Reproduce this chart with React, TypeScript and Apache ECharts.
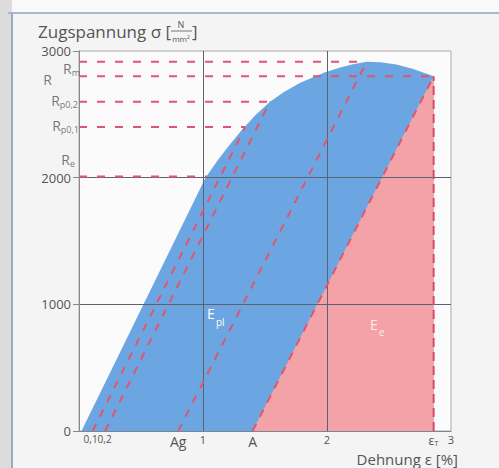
import React, { useEffect, useRef } from "react";
import * as echarts from "echarts";

// Stress–strain curve: Dehnung ε [%] vs Zugspannung σ [N/mm²]
const strain = [0.02, 1.02, 1.12, 1.22, 1.32, 1.42, 1.54, 1.65, 1.78, 1.98, 2.1, 2.2, 2.32, 2.43, 2.56, 2.69, 2.86];
const stress = [0, 2000, 2140, 2265, 2385, 2490, 2600, 2675, 2748, 2830, 2868, 2893, 2915, 2912, 2893, 2860, 2800];

// Characteristic stresses (R with subscript)
const levelSubs = ["m", "", "p0,2", "p0,1", "e"];
const levelStress = [2915, 2800, 2600, 2400, 2010];
const levelStrainAtCurve = [2.32, 2.86, 1.54, 1.34, 1.03];

// Offset / unloading lines (start on strain axis, end on curve)
const offsetStart = [0.11, 0.21, 0.8, 1.4];
const offsetEndStrain = [1.34, 1.54, 2.32, 2.86];
const offsetEndStress = [2400, 2600, 2915, 2800];

// Elongation at break
const epsT = 2.86;
const stressAtBreak = 2800;

// Elastic energy region (under unloading line from A)
const elasticStrain = [1.4, 2.86];
const elasticStress = [0, 2800];

// Axis labels ("0,1" and "0,2" sit side by side around 0.15)
const xLabelValues = [0.15, 0.8, 1, 1.4, 2, 2.86, 3];
const xLabelTexts = ["{s|0,1}{s|0,2}", "{b|Ag}", "{n|1}", "{b|A}", "{n|2}", "{e|ε}{t|T}", "{n|3}"];

const FONT = "Open Sans";

export default function App() {
  const ref = useRef<HTMLDivElement>(null);
  useEffect(() => {
    document.body.style.margin = "0";
    const chart = echarts.init(ref.current as HTMLDivElement, null, { renderer: "svg" });
    const dash = "#e0566f";
    const grey = "#555";
    const curveData = strain.map((x, i) => [x, stress[i]]);
    const elasticData = elasticStrain.map((x, i) => [x, elasticStress[i]]);
    const levelLabelOffsets = [[1, 7], [-27, 3], [-1, -1], [0, -2], [-4, -17]];

    const series: any[] = [
      {
        type: "line", data: curveData, showSymbol: false, silent: true, z: 2,
        lineStyle: { width: 0 }, areaStyle: { color: "#6ca6e2", opacity: 1 },
      },
      {
        type: "line", data: elasticData, showSymbol: false, silent: true, z: 3,
        lineStyle: { width: 0 }, areaStyle: { color: "#f3a2a7", opacity: 1 },
      },
    ];
    levelStress.forEach((v, i) =>
      series.push({
        type: "line", data: [[0, v], [levelStrainAtCurve[i], v]], showSymbol: false, silent: true, z: 6,
        lineStyle: { color: dash, width: 2, type: [8, 10] },
      })
    );
    offsetStart.forEach((x, i) =>
      series.push({
        type: "line", data: [[x, 0], [offsetEndStrain[i], offsetEndStress[i]]], showSymbol: false, silent: true, z: 6,
        lineStyle: { color: dash, width: 2, type: [8, 8] },
      })
    );
    series.push({
      type: "line", data: [[epsT, 0], [epsT, stressAtBreak]], showSymbol: false, silent: true, z: 6,
      lineStyle: { color: "#d84a66", width: 2, type: [9, 5] },
    });
    series.push({
      type: "scatter", symbolSize: 0, silent: true, z: 10,
      data: levelStress.map((v, i) => ({
        value: [0, v],
        label: {
          offset: levelLabelOffsets[i],
          formatter: levelSubs[i] ? `{r|R}{s|${levelSubs[i]}}` : "{r|R}",
        },
      })),
      label: {
        show: true, position: "left", distance: 0,
        rich: {
          r: { fontSize: 14, color: grey, fontFamily: FONT },
          s: { fontSize: 9, color: grey, fontFamily: FONT, padding: [8, 0, 0, 0] },
        },
      },
    });

    const option: any = {
      animation: false,
      backgroundColor: "#f4f4f4",
      textStyle: { fontFamily: FONT },
      grid: {
        left: 79, top: 51, width: 372, height: 380,
        show: true, backgroundColor: "#fbfbfb", borderColor: "#aaaaaa", borderWidth: 1,
      },
      xAxis: {
        type: "value", min: 0, max: 3, interval: 1, z: 4,
        axisLine: { show: true, lineStyle: { color: "#7d8595", width: 1 } },
        axisTick: { show: false },
        splitLine: { show: true, showMinLine: false, showMaxLine: false, lineStyle: { color: "#5c6270", width: 1 } },
        axisLabel: {
          customValues: xLabelValues,
          showMinLabel: true,
          showMaxLabel: true,
          hideOverlap: false,
          margin: 3,
          formatter: (v: number) => {
            const i = xLabelValues.findIndex((x) => Math.abs(x - v) < 1e-6);
            return i >= 0 ? xLabelTexts[i] : "";
          },
          rich: {
            s: { fontSize: 10, color: grey, fontFamily: FONT },
            b: { fontSize: 14, color: grey, fontFamily: FONT },
            n: { fontSize: 11, color: grey, fontFamily: FONT },
            e: { fontSize: 12, color: grey, fontFamily: FONT },
            t: { fontSize: 8, color: grey, fontFamily: FONT, padding: [4, 0, 0, 0] },
          },
        },
      },
      yAxis: {
        type: "value", min: 0, max: 3000, interval: 1000, z: 4,
        axisLine: { show: true, lineStyle: { color: "#8a8a8a", width: 1 } },
        axisTick: { show: true, length: 6, lineStyle: { color: "#888" } },
        splitLine: { show: true, showMinLine: false, showMaxLine: false, lineStyle: { color: "#5c6270", width: 1 } },
        axisLabel: { color: grey, fontSize: 13, margin: 8, fontFamily: FONT, formatter: (v: number) => String(v) },
      },
      series,
      graphic: [
        { type: "rect", z: -5, shape: { x: 0, y: 0, width: 12, height: 468 }, style: { fill: "#dcdcdc" } },
        { type: "rect", z: -5, shape: { x: 12, y: 0, width: 487, height: 13 }, style: { fill: "#f9f9f9" } },
        { type: "line", z: 1, shape: { x1: 8, y1: 13, x2: 499, y2: 13 }, style: { stroke: "#a8b8d0", lineWidth: 2 } },
        { type: "line", z: 1, shape: { x1: 12, y1: 13, x2: 12, y2: 468 }, style: { stroke: "#9aaac4", lineWidth: 2 } },
        { type: "text", z: 20, x: 38, y: 31, style: { text: "Zugspannung σ [", fill: grey, fontSize: 17, fontFamily: FONT, verticalAlign: "middle" } },
        { type: "text", z: 20, x: 181, y: 24, style: { text: "N", fill: grey, fontSize: 9, fontFamily: FONT, align: "center", verticalAlign: "middle" } },
        { type: "line", z: 20, shape: { x1: 171, y1: 31, x2: 192, y2: 31 }, style: { stroke: "#777", lineWidth: 1 } },
        { type: "text", z: 20, x: 181, y: 38, style: { text: "mm²", fill: grey, fontSize: 8, fontFamily: FONT, align: "center", verticalAlign: "middle" } },
        { type: "text", z: 20, x: 192, y: 31, style: { text: "]", fill: grey, fontSize: 17, fontFamily: FONT, verticalAlign: "middle" } },
        { type: "text", z: 20, x: 458, y: 459, style: { text: "Dehnung ε [%]", fill: grey, fontSize: 15, fontFamily: FONT, align: "right", verticalAlign: "middle" } },
        { type: "text", z: 20, x: 207, y: 313, style: { text: "E", fill: "#ffffff", fontSize: 14, fontFamily: FONT, verticalAlign: "middle" } },
        { type: "text", z: 20, x: 216, y: 322, style: { text: "pl", fill: "#ffffff", fontSize: 10, fontFamily: FONT, verticalAlign: "middle" } },
        { type: "text", z: 20, x: 370, y: 324, style: { text: "E", fill: "#fdeaea", fontSize: 14, fontFamily: FONT, verticalAlign: "middle" } },
        { type: "text", z: 20, x: 379, y: 332, style: { text: "e", fill: "#fdeaea", fontSize: 10, fontFamily: FONT, verticalAlign: "middle" } },
      ],
    };
    chart.setOption(option);
    return () => chart.dispose();
  }, []);
  return <div ref={ref} style={{ width: 499, height: 468 }} />;
}
